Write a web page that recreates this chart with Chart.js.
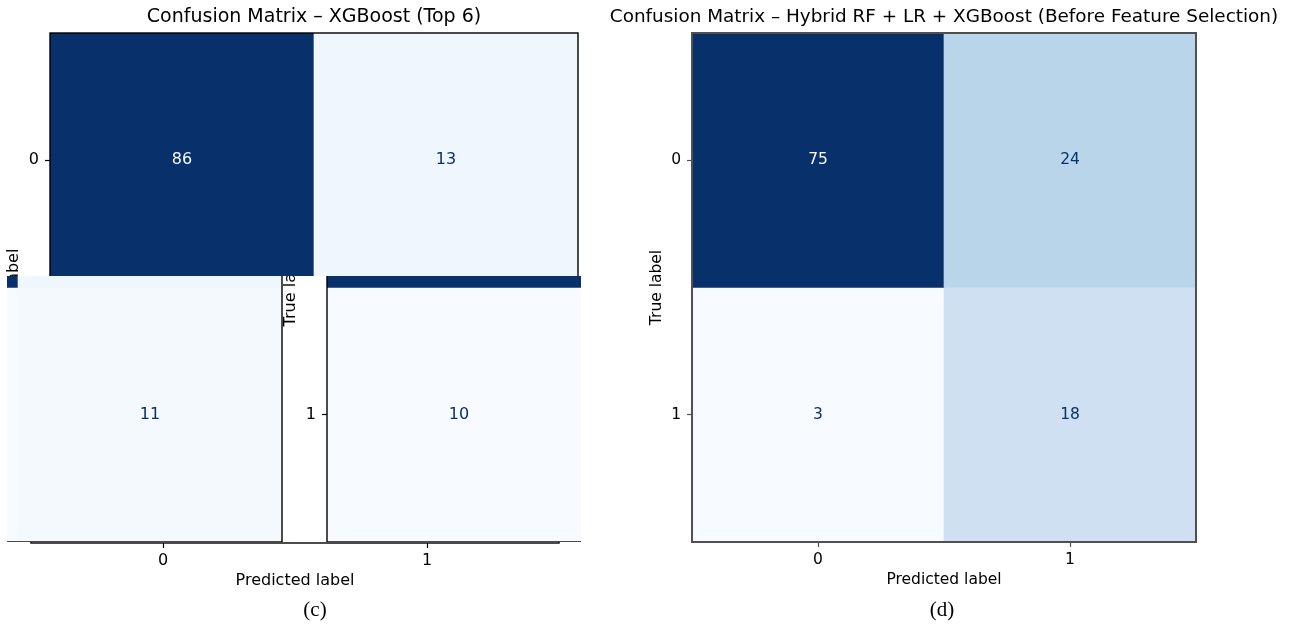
<!DOCTYPE html>
<html>
<head>
<meta charset="utf-8">
<title>Confusion matrices</title>
<script src="https://cdn.jsdelivr.net/npm/chart.js"></script>
<style>
  body { margin: 0; background: #fff; width: 1290px; height: 628px; position: relative; overflow: hidden; }
  .layer { position: absolute; overflow: hidden; }
  .layer canvas, .panel { position: absolute; }
  .caption { position: absolute; top: 597px; width: 60px; text-align: center; font: 21px "Liberation Serif", serif; color: #000; }
</style>
</head>
<body>
<!-- panel (c): the source image is torn, so the same chart is shown in three slices -->
<div class="layer" style="left:0; top:0; width:628px; height:276px;">
  <canvas id="cmC" width="628" height="600" style="left:0; top:0;"></canvas>
</div>
<div class="layer" style="left:7px; top:276px; width:574px; height:266px;">
  <canvas id="cmC_shiftA" width="628" height="600" style="left:270px; top:-276px;"></canvas>
  <canvas id="cmC_shiftB" width="628" height="600" style="left:-303px; top:-276px;"></canvas>
</div>
<div class="layer" style="left:0; top:542px; width:628px; height:86px;">
  <canvas id="cmC_axis" width="628" height="600" style="left:-19px; top:-541px;"></canvas>
</div>

<!-- panel (d) -->
<canvas id="cmD" class="panel" width="688" height="600" style="left:600px; top:0;"></canvas>

<div class="caption" style="left:285px;">(c)</div>
<div class="caption" style="left:912px;">(d)</div>

<script>
const predLabels = ["0", "1"];
const trueLabels = ["0", "1"];

const xgbRow0 = [86, 13];
const xgbRow1 = [10, 11];

const hybridRow0 = [75, 24];
const hybridRow1 = [3, 18];

const blues = ["#f7fbff", "#deebf7", "#c6dbef", "#9ecae1", "#6baed6", "#4292c6", "#2171b5", "#08519c", "#08306b"];

Chart.defaults.font.family = "'DejaVu Sans', sans-serif";
Chart.defaults.color = "#000";

function hexToRgb(h) {
  return [1, 3, 5].map((i) => parseInt(h.slice(i, i + 2), 16));
}

function bluesAt(t) {
  t = Math.min(1, Math.max(0, t));
  const pos = t * (blues.length - 1);
  const i = Math.min(Math.floor(pos), blues.length - 2);
  const f = pos - i;
  const a = hexToRgb(blues[i]);
  const b = hexToRgb(blues[i + 1]);
  const c = a.map((v, k) => Math.round(v + (b[k] - v) * f));
  return `rgb(${c[0]}, ${c[1]}, ${c[2]})`;
}

const cellText = {
  id: "cellText",
  afterDatasetsDraw(chart, args, opts) {
    const ctx = chart.ctx;
    ctx.save();
    ctx.font = `${opts.size}px 'DejaVu Sans'`;
    ctx.textAlign = "center";
    ctx.textBaseline = "middle";
    chart.data.datasets.forEach((ds, i) => {
      chart.getDatasetMeta(i).data.forEach((bar, j) => {
        const { x, y, base } = bar.getProps(["x", "y", "base"], true);
        ctx.fillStyle = ds.textColors[j];
        ctx.fillText(ds.values[j], x, (y + base) / 2);
      });
    });
    ctx.restore();
  },
};

const frame = {
  id: "frame",
  afterDraw(chart, args, opts) {
    const { left, top, right, bottom } = chart.chartArea;
    const ctx = chart.ctx;
    ctx.save();
    ctx.strokeStyle = opts.color;
    ctx.lineWidth = opts.width;
    ctx.strokeRect(left, top, right - left, bottom - top);
    ctx.restore();
  },
};

function confusionChart(canvasId, title, rows, geo) {
  const all = rows.flat();
  const lo = Math.min(...all);
  const hi = Math.max(...all);
  const fs = geo.font;
  const half = (fs * 1.2) / 2;

  const datasets = rows.map((vals, r) => ({
    data: vals.map(() => [r - 0.5, r + 0.5]),
    values: vals,
    backgroundColor: vals.map((v) => bluesAt((v - lo) / (hi - lo))),
    textColors: vals.map((v) => (v > (lo + hi) / 2 ? blues[0] : blues[8])),
    borderWidth: 0,
    barPercentage: 1,
    categoryPercentage: 1,
    grouped: false,
  }));

  const tickGrid = {
    drawOnChartArea: false,
    offset: false,
    tickLength: 5,
    tickWidth: 1.2,
    tickColor: geo.spine,
  };

  const titleHalf = (geo.titleFont * 1.2) / 2;

  return new Chart(document.getElementById(canvasId), {
    type: "bar",
    data: { labels: predLabels, datasets },
    options: {
      responsive: false,
      animation: false,
      devicePixelRatio: 1,
      layout: { padding: 0 },
      plugins: {
        legend: { display: false },
        tooltip: { enabled: false },
        title: {
          display: true,
          text: title,
          color: "#000",
          font: { size: geo.titleFont, weight: "normal", lineHeight: 1.2 },
          padding: { top: 17 - titleHalf, bottom: 33 - 17 - titleHalf },
        },
        frame: { color: geo.spine, width: geo.spineWidth },
        cellText: { size: fs },
      },
      scales: {
        x: {
          type: "category",
          offset: true,
          grid: tickGrid,
          border: { display: false },
          ticks: { font: { size: fs }, padding: 560 - 542 - 5 - half, maxRotation: 0 },
          title: {
            display: true,
            text: "Predicted label",
            font: { size: fs, lineHeight: 1.2 },
            padding: { top: 0, bottom: 20 - half },
          },
          afterFit: (s) => { s.height = 58; },
        },
        y: {
          type: "linear",
          min: -0.5,
          max: 1.5,
          reverse: true,
          afterBuildTicks: (s) => { s.ticks = trueLabels.map((_, i) => ({ value: i })); },
          grid: tickGrid,
          border: { display: false },
          ticks: { font: { size: fs }, padding: 6, callback: (v) => trueLabels[v] },
          title: {
            display: true,
            text: "True label",
            font: { size: fs, lineHeight: 1.2 },
            padding: { top: geo.titleX - half, bottom: 0 },
          },
          afterFit: (s) => { s.width = geo.left; },
        },
        yPad: {
          type: "linear",
          position: "right",
          display: true,
          grid: { display: false },
          border: { display: false },
          ticks: { display: false },
          afterFit: (s) => { s.width = geo.right; },
        },
      },
    },
    plugins: [cellText, frame],
  });
}

const xgbTitle = "Confusion Matrix \u2013 XGBoost (Top 6)";
const xgbGeo = { left: 50, right: 50, titleX: 14, spine: "#000", spineWidth: 1.4, font: 16, titleFont: 19 };
["cmC", "cmC_shiftA", "cmC_shiftB", "cmC_axis"].forEach((id) => {
  confusionChart(id, xgbTitle, [xgbRow0, xgbRow1], xgbGeo);
});

confusionChart(
  "cmD",
  "Confusion Matrix \u2013 Hybrid RF + LR + XGBoost (Before Feature Selection)",
  [hybridRow0, hybridRow1],
  { left: 92, right: 92, titleX: 57, spine: "#505050", spineWidth: 2, font: 15.5, titleFont: 18.4 }
);
</script>
</body>
</html>
